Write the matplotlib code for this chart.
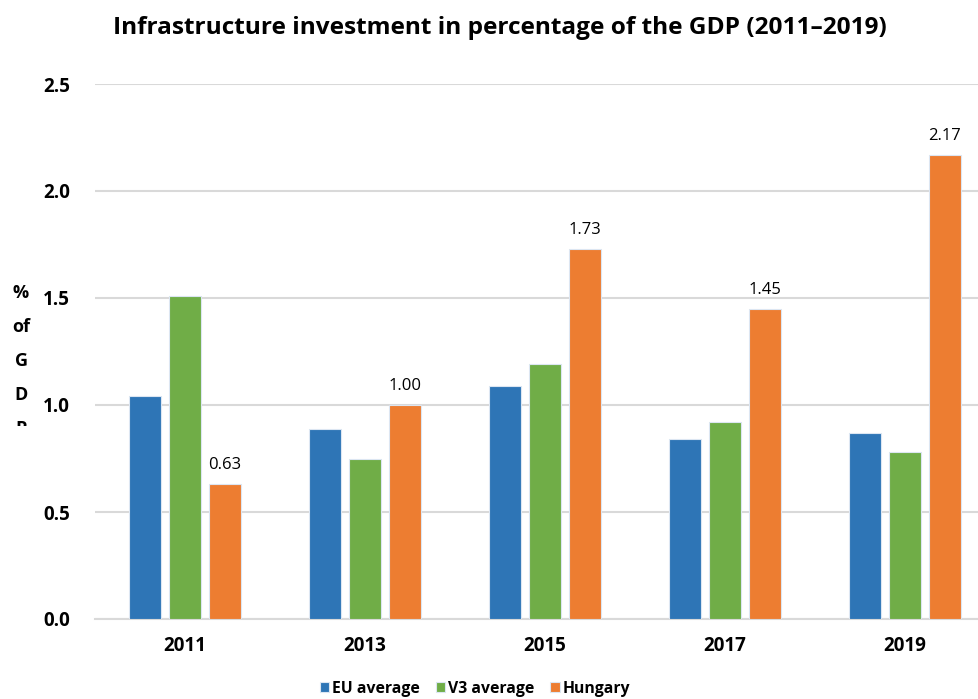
import matplotlib
matplotlib.use("Agg")
import matplotlib.pyplot as plt
import numpy as np
from matplotlib.transforms import Bbox, TransformedBbox

plt.rcParams['font.family'] = ['Open Sans', 'DejaVu Sans']

years = ["2011", "2013", "2015", "2017", "2019"]
eu_average = [1.04, 0.89, 1.09, 0.84, 0.87]
v3_average = [1.51, 0.75, 1.19, 0.92, 0.78]
hungary = [0.63, 1.00, 1.73, 1.45, 2.17]
series_names = ["EU average", "V3 average", "Hungary"]
colors = ["#2E75B6", "#70AD47", "#ED7D31"]
y_ticks = [0.0, 0.5, 1.0, 1.5, 2.0, 2.5]

fig = plt.figure(figsize=(9.79, 6.99), dpi=100)
ax = fig.add_axes([95/979, 1-619/699, 1-95/979, (619-84)/699])

x = np.arange(len(years))
w = 0.178
off = 0.2224
bars = []
for i, (vals, name, c) in enumerate(zip([eu_average, v3_average, hungary], series_names, colors)):
    b = ax.bar(x + (i-1)*off, vals, width=w, color=c, edgecolor="#DCE6F2", linewidth=0.8, label=name, zorder=3)
    bars.append(b)

for rect, v in zip(bars[2], hungary):
    ax.annotate(f"{v:.2f}", (rect.get_x()+rect.get_width()/2, v), xytext=(0, 8),
                textcoords="offset points", ha="center", va="bottom", fontsize=12, color="#000000")

ax.set_ylim(0, 2.5)
ax.set_xlim(-0.5, 4.414)
ax.set_yticks(y_ticks)
ax.set_yticklabels([f"{t:.1f}" for t in y_ticks], fontweight="bold", fontsize=13.5)
ax.set_xticks(x)
ax.set_xticklabels(years, fontweight="bold", fontsize=13.5)
ax.tick_params(axis="y", length=0, pad=18)
ax.tick_params(axis="x", length=0, pad=12)
ax.grid(axis="y", color="#D9D9D9", linewidth=1.5, zorder=0)
for s in ["top", "right", "left"]:
    ax.spines[s].set_visible(False)
ax.spines["bottom"].set_color("#D9D9D9")
ax.spines["bottom"].set_linewidth(1.5)

fig.text(500/979, 1-28/699, "Infrastructure investment in percentage of the GDP (2011\u20132019)",
         ha="center", va="center", fontsize=17.6, fontweight="bold")

t = fig.text(21/979, 1-284/699, "%\nof\nG\nD\nP", ha="center", va="top", fontsize=13,
             fontweight="bold", linespacing=2.15)
t.set_clip_box(TransformedBbox(Bbox([[0, 1-426/699], [0.1, 1]]), fig.transFigure))
t.set_clip_on(True)

fig.legend(handles=bars, labels=series_names, loc="center", bbox_to_anchor=(475/979, 1-689/699),
           ncol=3, frameon=False, prop={"weight": "bold", "size": 11.3},
           handlelength=0.6, handleheight=0.6, handletextpad=0.2, columnspacing=1.0)

fig.savefig("out.png", dpi=100)
